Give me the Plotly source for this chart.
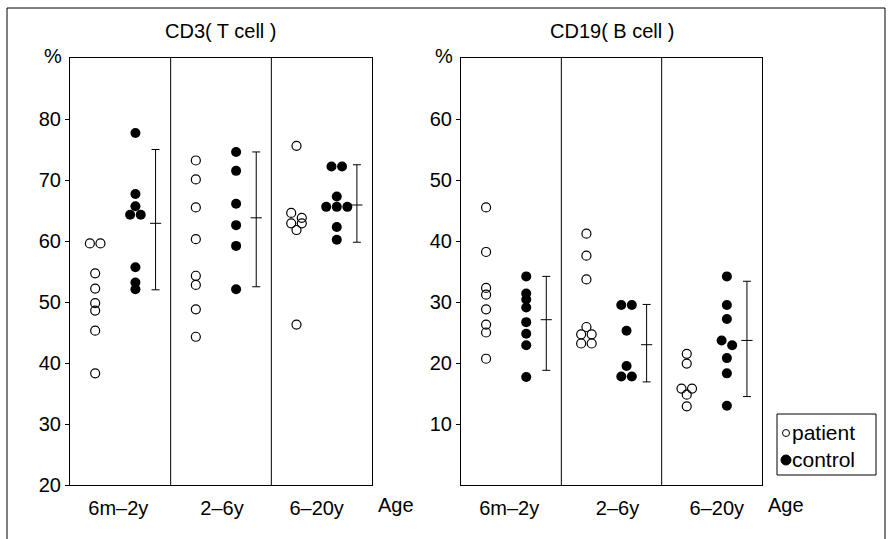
import plotly.graph_objects as go

# ---------------- data ----------------
age_groups = ["6m\u20132y", "2\u20136y", "6\u201320y"]

# CD3 (T cell), %
cd3_patient = [
    [59.6, 59.6, 54.7, 52.2, 49.8, 48.6, 45.3, 38.3],
    [73.2, 70.1, 65.5, 60.3, 54.3, 52.8, 48.8, 44.3],
    [75.6, 64.6, 63.8, 62.9, 62.9, 61.8, 46.3],
]
cd3_control = [
    [77.7, 67.7, 65.7, 64.3, 64.3, 55.7, 53.2, 52.1],
    [74.6, 71.5, 66.1, 62.6, 59.2, 52.1],
    [72.2, 72.2, 67.3, 65.6, 65.6, 65.6, 62.3, 60.2],
]
cd3_range_low = [52.0, 52.5, 59.8]
cd3_range_mid = [62.9, 63.8, 65.9]
cd3_range_high = [75.0, 74.6, 72.5]

# CD19 (B cell), %
cd19_patient = [
    [45.5, 38.2, 32.3, 31.2, 28.8, 26.3, 25.0, 20.7],
    [41.2, 37.6, 33.7, 25.9, 24.7, 24.7, 23.2, 23.2],
    [21.5, 19.9, 15.8, 15.8, 14.8, 12.9],
]
cd19_control = [
    [34.2, 31.4, 30.4, 29.1, 26.7, 24.8, 22.9, 17.7],
    [29.5, 29.5, 25.3, 19.5, 17.8, 17.8],
    [34.2, 29.5, 27.2, 23.7, 22.9, 20.8, 18.3, 13.0],
]
cd19_range_low = [18.8, 16.9, 14.5]
cd19_range_mid = [27.1, 23.0, 23.7]
cd19_range_high = [34.2, 29.6, 33.4]

cd3_ticks = [20, 30, 40, 50, 60, 70, 80]
cd19_ticks = [10, 20, 30, 40, 50, 60]
legend_labels = ["patient", "control"]

# ---------------- layout helpers ----------------
W, H = 891, 539
FONT = "Liberation Sans, Arial, Helvetica, sans-serif"
PAT_OFF, CON_OFF, BAR_OFF, STEP = 0.25, 0.65, 0.85, 0.105


def dodge(values, center):
    order = sorted(range(len(values)), key=lambda i: -values[i])
    clusters = []
    for i in order:
        if clusters and abs(values[clusters[-1][-1]] - values[i]) < 0.85:
            clusters[-1].append(i)
        else:
            clusters.append([i])
    xs = [center] * len(values)
    for cl in clusters:
        n = len(cl)
        for k, i in enumerate(cl):
            xs[i] = center + (k - (n - 1) / 2) * STEP
    return xs


def flat(groups, off):
    xs, ys = [], []
    for g, vals in enumerate(groups):
        xs += dodge(vals, g + off)
        ys += vals
    return xs, ys


fig = go.Figure()

panels = [
    ("x", "y", cd3_patient, cd3_control, cd3_range_low, cd3_range_mid, cd3_range_high),
    ("x2", "y2", cd19_patient, cd19_control, cd19_range_low, cd19_range_mid, cd19_range_high),
]
for xa, ya, pat, con, lo, mid, hi in panels:
    px_, py_ = flat(pat, PAT_OFF)
    cx_, cy_ = flat(con, CON_OFF)
    fig.add_trace(go.Scatter(x=px_, y=py_, mode="markers", name=legend_labels[0], xaxis=xa, yaxis=ya,
                             showlegend=False,
                             marker=dict(symbol="circle-open", size=9, color="black", line=dict(width=1.2))))
    fig.add_trace(go.Scatter(x=cx_, y=cy_, mode="markers", name=legend_labels[1], xaxis=xa, yaxis=ya,
                             showlegend=False,
                             marker=dict(symbol="circle", size=10, color="black")))
    fig.add_trace(go.Scatter(
        x=[g + BAR_OFF for g in range(len(mid))], y=mid, mode="markers", xaxis=xa, yaxis=ya,
        showlegend=False,
        marker=dict(symbol="line-ew", size=8, line=dict(width=1, color="black")),
        error_y=dict(type="data", symmetric=False,
                     array=[h - m for h, m in zip(hi, mid)],
                     arrayminus=[m - l for m, l in zip(mid, lo)],
                     color="black", thickness=1, width=4)))

ydom = [1 - 485 / H, 1 - 58 / H]
axis_common = dict(showline=True, mirror=True, linecolor="black", linewidth=1, automargin=False,
                   showgrid=False, zeroline=False, tickfont=dict(size=20, color="black", family=FONT))

fig.update_layout(
    width=W, height=H, margin=dict(l=0, r=0, t=0, b=0, pad=0),
    paper_bgcolor="white", plot_bgcolor="white", showlegend=False,
    font=dict(family=FONT, color="black", size=20),
    xaxis=dict(domain=[70 / W, 372 / W], range=[0, 3], tickmode="array",
               tickvals=[0.48, 1.51, 2.45], ticktext=age_groups,
               ticks="outside", ticklen=5, tickcolor="rgba(0,0,0,0)", **axis_common),
    yaxis=dict(domain=ydom, range=[20, 90], tickmode="array", tickvals=cd3_ticks,
               ticks="outside", ticklen=4, tickcolor="black", **axis_common),
    xaxis2=dict(domain=[461 / W, 762 / W], range=[0, 3], anchor="y2", tickmode="array",
                tickvals=[0.48, 1.56, 2.55], ticktext=age_groups,
                ticks="outside", ticklen=5, tickcolor="rgba(0,0,0,0)", **axis_common),
    yaxis2=dict(domain=ydom, range=[0, 70], anchor="x2", tickmode="array", tickvals=cd19_ticks,
                ticks="outside", ticklen=4, tickcolor="black", **axis_common),
)


def px(x):
    return x / W


def py(y):
    return 1 - y / H


shapes = [dict(type="rect", xref="paper", yref="paper", x0=px(7), x1=px(885), y0=-0.05, y1=py(8),
               line=dict(color="black", width=1))]
for xr, yr in (("x", "y domain"), ("x2", "y2 domain")):
    for d in (1, 2):
        shapes.append(dict(type="line", xref=xr, yref=yr, x0=d, x1=d, y0=0, y1=1,
                           line=dict(color="black", width=1)))
# legend box and symbols
shapes.append(dict(type="rect", xref="paper", yref="paper", x0=px(777), x1=px(876), y0=py(475), y1=py(414),
                   line=dict(color="black", width=1), fillcolor="white"))
shapes.append(dict(type="circle", xref="paper", yref="paper", x0=px(782.5), x1=px(789.5),
                   y0=py(436.5), y1=py(429.5), line=dict(color="black", width=1)))
shapes.append(dict(type="circle", xref="paper", yref="paper", x0=px(781), x1=px(791),
                   y0=py(465), y1=py(455), line=dict(color="black", width=1), fillcolor="black"))
fig.update_layout(shapes=shapes)

annotations = [
    dict(text="CD3( T cell )", xref="x domain", yref="paper", x=0.5, y=py(31),
         xanchor="center", yanchor="middle", showarrow=False, font=dict(size=20)),
    dict(text="CD19( B cell )", xref="x2 domain", yref="paper", x=0.5, y=py(31),
         xanchor="center", yanchor="middle", showarrow=False, font=dict(size=20)),
    dict(text="%", xref="x domain", yref="y domain", x=0, y=1, xshift=-6, yshift=2,
         xanchor="right", yanchor="middle", showarrow=False, font=dict(size=20)),
    dict(text="%", xref="x2 domain", yref="y2 domain", x=0, y=1, xshift=-6, yshift=2,
         xanchor="right", yanchor="middle", showarrow=False, font=dict(size=20)),
    dict(text="Age", xref="paper", yref="paper", x=px(376), y=py(505),
         xanchor="left", yanchor="middle", showarrow=False, font=dict(size=20)),
    dict(text="Age", xref="paper", yref="paper", x=px(766), y=py(505),
         xanchor="left", yanchor="middle", showarrow=False, font=dict(size=20)),
    dict(text=legend_labels[0], xref="paper", yref="paper", x=px(790), y=py(432),
         xanchor="left", yanchor="middle", showarrow=False, font=dict(size=21)),
    dict(text=legend_labels[1], xref="paper", yref="paper", x=px(790), y=py(459),
         xanchor="left", yanchor="middle", showarrow=False, font=dict(size=21)),
]
fig.update_layout(annotations=annotations)

fig.write_html(
    "out.html",
    config={"displayModeBar": False},
    post_script="document.body.style.margin='0';document.body.style.padding='0';",
)
